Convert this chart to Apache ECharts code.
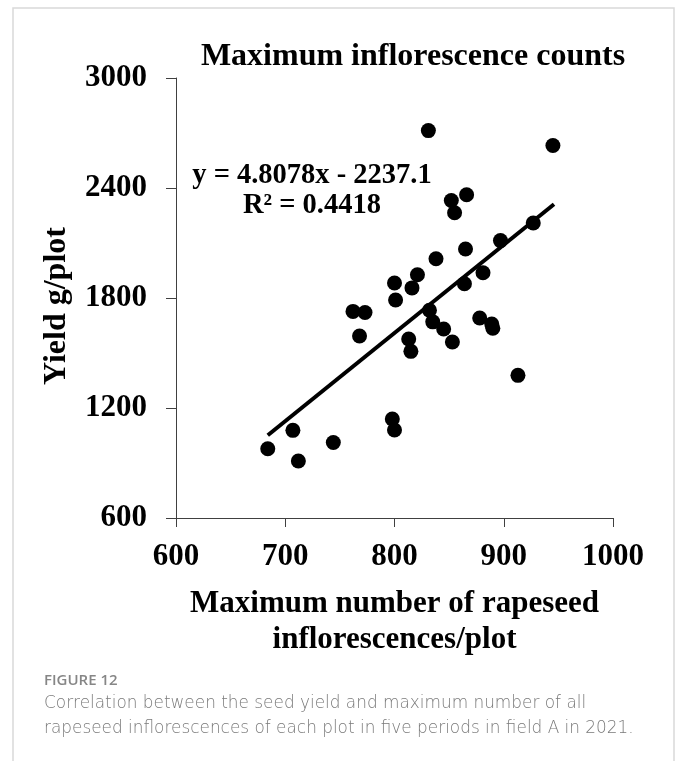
<!DOCTYPE html>
<html>
<head>
<meta charset="utf-8">
<script src="https://cdn.jsdelivr.net/npm/echarts@6/dist/echarts.min.js"></script>
<style>
html,body{margin:0;padding:0;background:#fff;}
#chart{width:676px;height:761px;}
</style>
</head>
<body>
<div id="chart"></div>
<script>
// Data
const inflorescences = [684, 707, 712, 744, 798, 800, 762, 773, 768, 800, 801, 816, 821, 813, 815, 838, 865, 832, 835, 845, 853, 864, 881, 878, 889, 890, 913, 927, 897, 945, 831, 852, 855, 866];
const yieldValues   = [978, 1078, 911, 1012, 1140, 1080, 1727, 1721, 1593, 1882, 1789, 1855, 1927, 1576, 1509, 2014, 2067, 1733, 1670, 1631, 1560, 1878, 1938, 1691, 1658, 1635, 1378, 2209, 2113, 2632, 2713, 2332, 2265, 2363];
const xTicks = [600, 700, 800, 900, 1000];
const yTicks = [600, 1200, 1800, 2400, 3000];
const slope = 4.8078;
const intercept = -2237.1;
const trendX = [684, 946];
const equationText = 'y = 4.8078x - 2237.1';
const r2Text = 'R² = 0.4418';
const titleText = 'Maximum inflorescence counts';
const xName = 'Maximum number of rapeseed\ninflorescences/plot';
const yName = 'Yield g/plot';
const figLabel = 'FIGURE 12';
const captionLines = [
  'Correlation between the seed yield and maximum number of all',
  'rapeseed inflorescences of each plot in five periods in field A in 2021.'
];

const points = inflorescences.map((x, i) => [x, yieldValues[i]]);
const trend = trendX.map(x => [x, slope * x + intercept]);

const serif = '"Liberation Serif", "Times New Roman", serif';
const chart = echarts.init(document.getElementById('chart'), null, {renderer: 'canvas'});

const axisCommon = {
  type: 'value',
  axisLine: {show: true, lineStyle: {color: '#404040', width: 1}},
  axisTick: {show: true, inside: false, lineStyle: {color: '#404040', width: 1}},
  splitLine: {show: false},
  axisLabel: {fontFamily: serif, fontWeight: 'bold', fontSize: 31, color: '#000', formatter: v => String(v)}
};

chart.setOption({
  animation: false,
  backgroundColor: '#fff',
  grid: {left: 176, top: 78, right: 63, bottom: 243, containLabel: false, outerBoundsMode: 'none'},
  xAxis: Object.assign({}, axisCommon, {
    min: xTicks[0], max: xTicks[xTicks.length - 1], interval: xTicks[1] - xTicks[0],
    axisTick: Object.assign({}, axisCommon.axisTick, {length: 9}),
    axisLabel: Object.assign({}, axisCommon.axisLabel, {margin: 23, showMinLabel: true, showMaxLabel: true}),
    name: xName, nameLocation: 'middle', nameGap: 68,
    nameTextStyle: {fontFamily: serif, fontWeight: 'bold', fontSize: 31, color: '#000', lineHeight: 36}
  }),
  yAxis: Object.assign({}, axisCommon, {
    min: yTicks[0], max: yTicks[yTicks.length - 1], interval: yTicks[1] - yTicks[0],
    axisTick: Object.assign({}, axisCommon.axisTick, {length: 10}),
    axisLabel: Object.assign({}, axisCommon.axisLabel, {margin: 29, showMinLabel: true, showMaxLabel: true})
  }),
  series: [
    {
      type: 'scatter', data: points, symbol: 'circle', symbolSize: 15,
      itemStyle: {color: '#000', opacity: 1}, z: 3
    },
    {
      type: 'line', data: trend, symbol: 'none', showSymbol: false,
      lineStyle: {color: '#000', width: 4}, z: 2
    }
  ],
  graphic: [
    {type: 'rect', shape: {x: 13, y: 8, width: 661, height: 800}, style: {fill: 'none', stroke: '#d9d9d9', lineWidth: 1.5}, silent: true},
    {type: 'text', style: {text: titleText, x: 413, y: 57, textAlign: 'center', textVerticalAlign: 'middle', font: 'bold 32px ' + serif, fill: '#000'}},
    {type: 'text', rotation: Math.PI / 2, x: 57, y: 306, style: {text: yName, x: 0, y: 0, textAlign: 'center', textVerticalAlign: 'middle', font: 'bold 32px ' + serif, fill: '#000'}},
    {type: 'text', style: {text: equationText, x: 312, y: 176, textAlign: 'center', textVerticalAlign: 'middle', font: 'bold 28.5px ' + serif, fill: '#000'}},
    {type: 'text', style: {text: r2Text, x: 312, y: 206, textAlign: 'center', textVerticalAlign: 'middle', font: 'bold 28.5px ' + serif, fill: '#000'}},
    {type: 'text', style: {text: figLabel, x: 44, y: 681, textAlign: 'left', textVerticalAlign: 'middle', font: '600 15px "Open Sans", Lato, sans-serif', fill: '#868686'}},
    {type: 'text', style: {text: captionLines[0], x: 44, y: 704, textAlign: 'left', textVerticalAlign: 'middle', font: '300 16.9px "DejaVu Sans", "Open Sans", sans-serif', fill: '#7a7a7a'}},
    {type: 'text', style: {text: captionLines[1], x: 44, y: 729, textAlign: 'left', textVerticalAlign: 'middle', font: '300 16.9px "DejaVu Sans", "Open Sans", sans-serif', fill: '#7a7a7a'}}
  ]
});
</script>
</body>
</html>
